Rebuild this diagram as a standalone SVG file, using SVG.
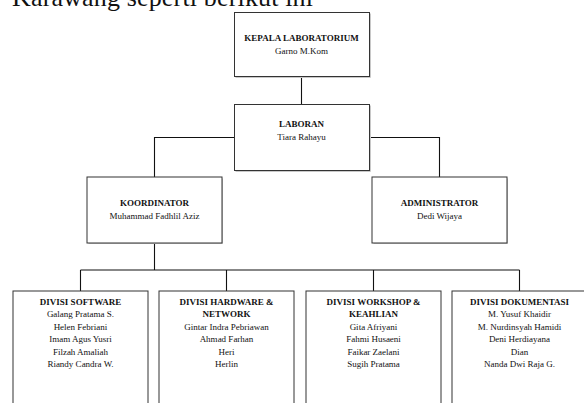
<svg xmlns="http://www.w3.org/2000/svg" width="584" height="403" viewBox="0 0 584 403">
<style>
.box{fill:#fff;stroke:#333;stroke-width:1}
.sh{fill:none;stroke:#c8c8c8;stroke-width:1}
.t{font-family:"Liberation Serif","Times New Roman",serif;font-size:9px;fill:#111;text-anchor:middle}
.b{font-weight:bold}
.c{fill:none;stroke:#111;stroke-width:1.1}
.hd{font-family:"Liberation Serif","Times New Roman",serif;font-size:26px;fill:#111}
</style>
<rect width="584" height="403" fill="#fff"/>
<text class="hd" x="12" y="6" textLength="301" lengthAdjust="spacing">Karawang seperti berikut ini</text>
<g id="connectors">
<path class="c" d="M301.5 76V104"/>
<path class="c" d="M234 137.5H154.5V177"/>
<path class="c" d="M369 137.5H439.5V177"/>
<path class="c" d="M154.5 243V270"/>
<path class="c" d="M80.5 270H519.5"/>
<path class="c" d="M80.5 270V291M226.5 270V291M373.5 270V291M519.5 270V291"/>
</g>
<g id="kepala">
<path class="sh" d="M235.5 77.5H370.5V13.5"/>
<rect class="box" x="234.5" y="12.5" width="135" height="64"/>
<text class="t b" x="301.5" y="40.5">KEPALA LABORATORIUM</text>
<text class="t" x="301.5" y="54">Garno M.Kom</text>
</g>
<g id="laboran">
<path class="sh" d="M235.5 171.5H370.5V105.5"/>
<rect class="box" x="234.5" y="104.5" width="135" height="66"/>
<text class="t b" x="301.5" y="127.3">LABORAN</text>
<text class="t" x="301.5" y="140">Tiara Rahayu</text>
</g>
<g id="koordinator">
<path class="sh" d="M88.5 243.5H222.5V178.5"/>
<rect class="box" x="87" y="177" width="135" height="66"/>
<text class="t b" x="154.5" y="206">KOORDINATOR</text>
<text class="t" x="154.5" y="219.3">Muhammad Fadhlil Aziz</text>
</g>
<g id="administrator">
<path class="sh" d="M373.5 243.5H507.5V178.5"/>
<rect class="box" x="372" y="177" width="135" height="66"/>
<text class="t b" x="439.5" y="206">ADMINISTRATOR</text>
<text class="t" x="439.5" y="219.3">Dedi Wijaya</text>
</g>
<g id="div-software">
<rect class="box" x="13" y="291" width="135" height="130"/>
<text class="t b" x="80.5" y="305">DIVISI SOFTWARE</text>
<text class="t" x="80.5" y="317.4">Galang Pratama S.</text>
<text class="t" x="80.5" y="329.8">Helen Febriani</text>
<text class="t" x="80.5" y="342.2">Imam Agus Yusri</text>
<text class="t" x="80.5" y="354.6">Filzah Amaliah</text>
<text class="t" x="80.5" y="367">Riandy Candra W.</text>
</g>
<g id="div-hardware">
<rect class="box" x="159" y="291" width="135" height="130"/>
<text class="t b" x="226.5" y="305">DIVISI HARDWARE &amp;</text>
<text class="t b" x="226.5" y="317.4">NETWORK</text>
<text class="t" x="226.5" y="329.8">Gintar Indra Pebriawan</text>
<text class="t" x="226.5" y="342.2">Ahmad Farhan</text>
<text class="t" x="226.5" y="354.6">Heri</text>
<text class="t" x="226.5" y="367">Herlin</text>
</g>
<g id="div-workshop">
<rect class="box" x="306" y="291" width="135" height="130"/>
<text class="t b" x="373.5" y="305">DIVISI WORKSHOP &amp;</text>
<text class="t b" x="373.5" y="317.4">KEAHLIAN</text>
<text class="t" x="373.5" y="329.8">Gita Afriyani</text>
<text class="t" x="373.5" y="342.2">Fahmi Husaeni</text>
<text class="t" x="373.5" y="354.6">Faikar Zaelani</text>
<text class="t" x="373.5" y="367">Sugih Pratama</text>
</g>
<g id="div-dokumentasi">
<rect class="box" x="452" y="291" width="135" height="130"/>
<text class="t b" x="519.5" y="305">DIVISI DOKUMENTASI</text>
<text class="t" x="519.5" y="317.4">M. Yusuf Khaidir</text>
<text class="t" x="519.5" y="329.8">M. Nurdinsyah Hamidi</text>
<text class="t" x="519.5" y="342.2">Deni Herdiayana</text>
<text class="t" x="519.5" y="354.6">Dian</text>
<text class="t" x="519.5" y="367">Nanda Dwi Raja G.</text>
</g>
</svg>
